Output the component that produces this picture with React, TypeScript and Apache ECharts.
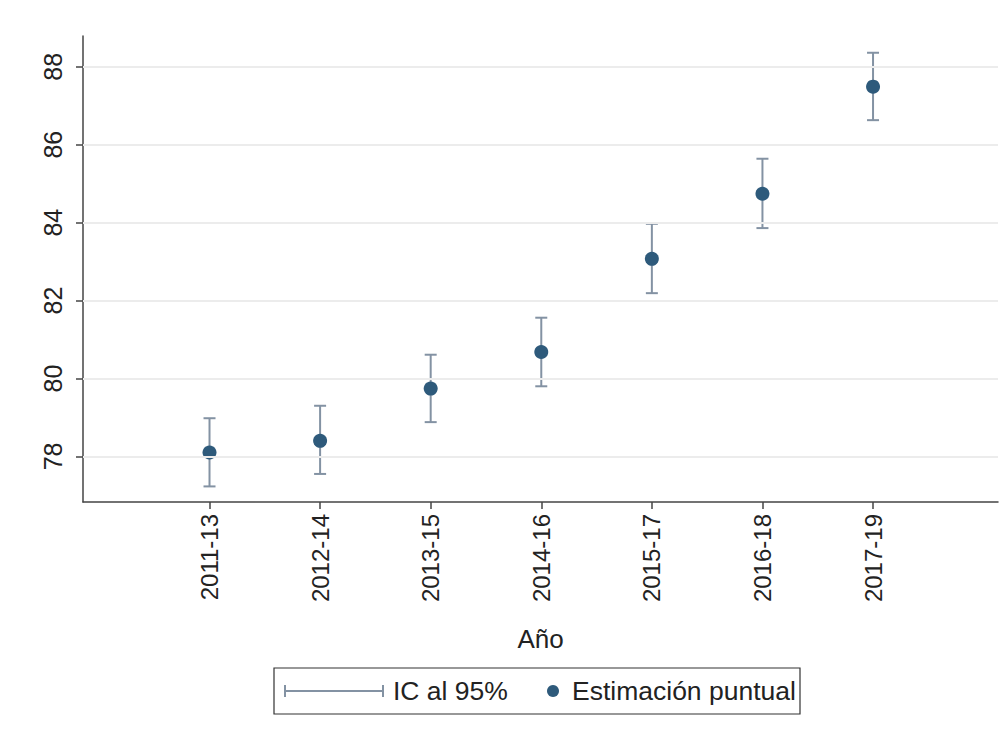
import React, { useEffect, useRef } from "react";
import * as echarts from "echarts";

const categories = ["2011-13", "2012-14", "2013-15", "2014-16", "2015-17", "2016-18", "2017-19"];
const pointEstimates = [78.1, 78.4, 79.74, 80.68, 83.07, 84.74, 87.49];
const ciLower = [77.23, 77.55, 78.88, 79.8, 82.19, 83.86, 86.63];
const ciUpper = [78.98, 79.3, 80.61, 81.56, 83.97, 85.64, 88.36];
const yTicks = [78, 80, 82, 84, 86, 88];
const xAxisTitle = "Año";
const legendLabels = ["IC al 95%", "Estimación puntual"];

const FONT = "'Liberation Sans', Arial, sans-serif";
const POINT_COLOR = "#2e5a7b";
const BAR_COLOR = "#8392a3";

export default function App() {
  const ref = useRef<HTMLDivElement>(null);
  useEffect(() => {
    if (!ref.current) return;
    const chart = echarts.init(ref.current, null, { renderer: "svg" });
    const xIdx = categories.map((_, i) => i);
    const option: any = {
      animation: false,
      backgroundColor: "#ffffff",
      textStyle: { fontFamily: FONT },
      grid: { left: 83, right: 10, top: 36, bottom: 238, containLabel: false },
      xAxis: {
        type: "value",
        min: -1.144,
        max: 7.13,
        name: xAxisTitle,
        nameLocation: "middle",
        nameGap: 124,
        nameTextStyle: { fontSize: 26, color: "#222", fontFamily: FONT },
        axisLine: { show: true, onZero: false, lineStyle: { color: "#444", width: 1.5 } },
        axisTick: { show: true, customValues: xIdx, length: 7, lineStyle: { color: "#444", width: 1.5 } },
        axisLabel: {
          customValues: xIdx,
          rotate: 90,
          margin: 12,
          fontSize: 24,
          color: "#222",
          fontFamily: FONT,
          formatter: (v: number) => categories[Math.round(v)] ?? "",
        },
        splitLine: { show: false },
      },
      yAxis: {
        type: "value",
        min: 76.83,
        max: 88.79,
        axisLine: { show: true, onZero: false, lineStyle: { color: "#444", width: 1.5 } },
        axisTick: { show: true, customValues: yTicks, length: 7, lineStyle: { color: "#444", width: 1.5 } },
        axisLabel: {
          customValues: yTicks,
          rotate: 90,
          margin: 18,
          fontSize: 25,
          color: "#222",
          fontFamily: FONT,
        },
        splitLine: { show: false },
      },
      series: [
        {
          type: "scatter",
          data: [],
          z: 0,
          silent: true,
          markLine: {
            silent: true,
            symbol: ["none", "none"],
            label: { show: false },
            lineStyle: { color: "#ececec", width: 2, type: "solid" },
            data: yTicks.map((v) => ({ yAxis: v })),
          },
        },
        {
          type: "custom",
          z: 2,
          silent: true,
          data: xIdx.map((i) => [i, ciLower[i], ciUpper[i]]),
          renderItem: (params: any, api: any) => {
            const x = api.value(0);
            const lo = api.coord([x, api.value(1)]);
            const hi = api.coord([x, api.value(2)]);
            const cap = 6;
            const style = { stroke: BAR_COLOR, lineWidth: 2 };
            return {
              type: "group",
              children: [
                { type: "line", shape: { x1: lo[0], y1: lo[1], x2: hi[0], y2: hi[1] }, style },
                { type: "line", shape: { x1: lo[0] - cap, y1: lo[1], x2: lo[0] + cap, y2: lo[1] }, style },
                { type: "line", shape: { x1: hi[0] - cap, y1: hi[1], x2: hi[0] + cap, y2: hi[1] }, style },
              ],
            };
          },
        },
        {
          type: "scatter",
          z: 3,
          symbol: "circle",
          symbolSize: 14,
          itemStyle: { color: POINT_COLOR, opacity: 1 },
          data: xIdx.map((i) => [i, pointEstimates[i]]),
        },
      ],
      graphic: [
        {
          type: "rect",
          shape: { x: 274, y: 668, width: 526, height: 46 },
          style: { fill: "#fff", stroke: "#333", lineWidth: 1.2 },
        },
        {
          type: "line",
          shape: { x1: 285, y1: 691, x2: 383, y2: 691 },
          style: { stroke: BAR_COLOR, lineWidth: 2 },
        },
        {
          type: "line",
          shape: { x1: 285, y1: 685, x2: 285, y2: 697 },
          style: { stroke: BAR_COLOR, lineWidth: 2 },
        },
        {
          type: "line",
          shape: { x1: 383, y1: 685, x2: 383, y2: 697 },
          style: { stroke: BAR_COLOR, lineWidth: 2 },
        },
        {
          type: "text",
          x: 393,
          y: 691,
          style: { text: legendLabels[0], font: `26.5px ${FONT}`, fill: "#222", verticalAlign: "middle" },
        },
        {
          type: "circle",
          shape: { cx: 553, cy: 691, r: 6 },
          style: { fill: POINT_COLOR },
        },
        {
          type: "text",
          x: 572,
          y: 691,
          style: { text: legendLabels[1], font: `26.5px ${FONT}`, fill: "#222", verticalAlign: "middle" },
        },
      ],
    };
    chart.setOption(option);
    return () => chart.dispose();
  }, []);
  return (
    <div
      ref={ref}
      style={{ position: "fixed", left: 0, top: 0, width: 1008, height: 740, background: "#fff" }}
    />
  );
}
